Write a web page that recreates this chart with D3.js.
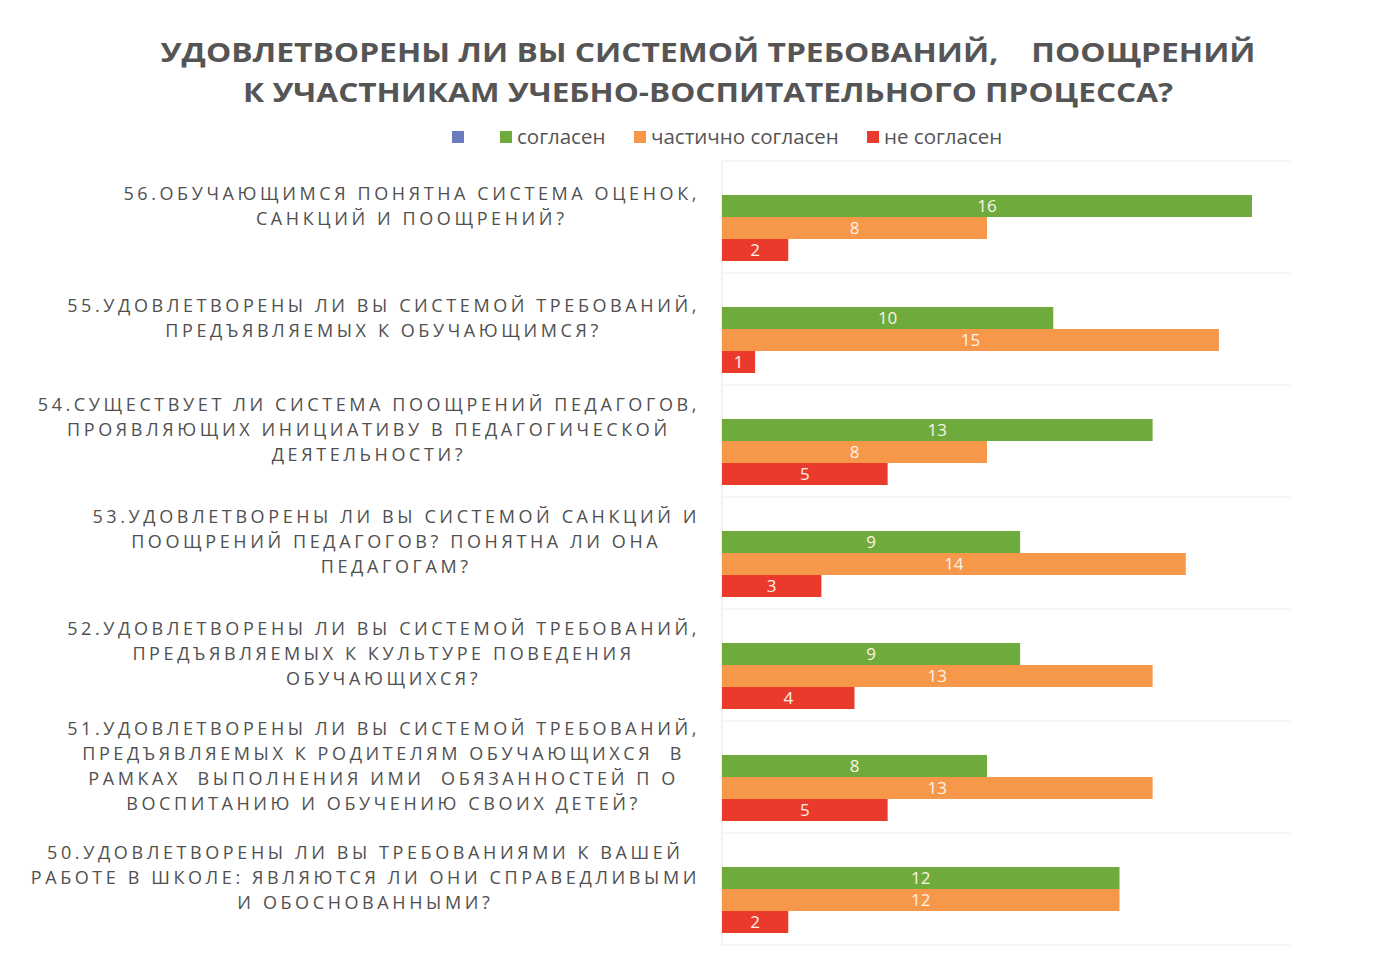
<!DOCTYPE html>
<html>
<head>
<meta charset="utf-8">
<script src="https://cdn.jsdelivr.net/npm/d3@7"></script>
<style>
  body { margin: 0; background: #fff; }
  svg { display: block; }
</style>
</head>
<body>
<script>
// data, top to bottom as in the chart
var questions = ["56", "55", "54", "53", "52", "51", "50"];
var labelLines = [
  ["56.ОБУЧАЮЩИМСЯ ПОНЯТНА СИСТЕМА ОЦЕНОК,", "САНКЦИЙ И ПООЩРЕНИЙ?"],
  ["55.УДОВЛЕТВОРЕНЫ ЛИ ВЫ СИСТЕМОЙ ТРЕБОВАНИЙ,", "ПРЕДЪЯВЛЯЕМЫХ К ОБУЧАЮЩИМСЯ?"],
  ["54.СУЩЕСТВУЕТ ЛИ СИСТЕМА ПООЩРЕНИЙ ПЕДАГОГОВ,", "ПРОЯВЛЯЮЩИХ ИНИЦИАТИВУ В ПЕДАГОГИЧЕСКОЙ", "ДЕЯТЕЛЬНОСТИ?"],
  ["53.УДОВЛЕТВОРЕНЫ ЛИ ВЫ СИСТЕМОЙ САНКЦИЙ И", "ПООЩРЕНИЙ ПЕДАГОГОВ? ПОНЯТНА ЛИ ОНА", "ПЕДАГОГАМ?"],
  ["52.УДОВЛЕТВОРЕНЫ ЛИ ВЫ СИСТЕМОЙ ТРЕБОВАНИЙ,", "ПРЕДЪЯВЛЯЕМЫХ К КУЛЬТУРЕ ПОВЕДЕНИЯ", "ОБУЧАЮЩИХСЯ?"],
  ["51.УДОВЛЕТВОРЕНЫ ЛИ ВЫ СИСТЕМОЙ ТРЕБОВАНИЙ,", "ПРЕДЪЯВЛЯЕМЫХ К РОДИТЕЛЯМ ОБУЧАЮЩИХСЯ  В", "РАМКАХ  ВЫПОЛНЕНИЯ ИМИ  ОБЯЗАННОСТЕЙ П О", "ВОСПИТАНИЮ И ОБУЧЕНИЮ СВОИХ ДЕТЕЙ?"],
  ["50.УДОВЛЕТВОРЕНЫ ЛИ ВЫ ТРЕБОВАНИЯМИ К ВАШЕЙ", "РАБОТЕ В ШКОЛЕ: ЯВЛЯЮТСЯ ЛИ ОНИ СПРАВЕДЛИВЫМИ", "И ОБОСНОВАННЫМИ?"]
];
var agree    = [16, 10, 13, 9, 9, 8, 12];
var partly   = [8, 15, 8, 14, 13, 13, 12];
var disagree = [2, 1, 5, 3, 4, 5, 2];

var seriesKeys   = ["blank", "agree", "partly", "disagree"];
var seriesNames  = ["", "согласен", "частично согласен", "не согласен"];
var seriesColors = ["#6b7bbf", "#6fab3c", "#f7974a", "#ea3a2c"];
var titleLines = ["УДОВЛЕТВОРЕНЫ ЛИ ВЫ СИСТЕМОЙ ТРЕБОВАНИЙ,    ПООЩРЕНИЙ", "К УЧАСТНИКАМ УЧЕБНО-ВОСПИТАТЕЛЬНОГО ПРОЦЕССА?"];

var W = 1399, H = 968;
var svg = d3.select("body").append("svg").attr("width", W).attr("height", H);
svg.append("rect").attr("width", W).attr("height", H).attr("fill", "#fff");

var rows = questions.map(function(q, i) {
  return {id: q, lines: labelLines[i], agree: agree[i], partly: partly[i], disagree: disagree[i]};
});

var x = d3.scaleLinear().domain([0, 16]).range([722, 1252]);
var y0 = d3.scaleBand().domain(questions).range([161, 945]);
var y1 = d3.scaleBand().domain(seriesKeys).range([12, y0.bandwidth() - 12]);

// faint separators between categories
svg.append("g").selectAll("line")
  .data(questions.concat(["end"]))
  .join("line")
  .attr("x1", 722).attr("x2", 1290)
  .attr("y1", function(d) { return d === "end" ? y0.range()[1] : y0(d); })
  .attr("y2", function(d) { return d === "end" ? y0.range()[1] : y0(d); })
  .attr("stroke", "#ececec").attr("stroke-width", 1);
svg.append("line")
  .attr("x1", 722).attr("x2", 722).attr("y1", y0.range()[0]).attr("y2", y0.range()[1])
  .attr("stroke", "#e4e4e4");

// title
svg.append("g").selectAll("text")
  .data(titleLines)
  .join("text")
  .attr("x", 708).attr("y", function(d, i) { return 62 + i * 40; })
  .attr("text-anchor", "middle")
  .attr("font-family", "'Open Sans', sans-serif")
  .attr("font-weight", "bold").attr("font-size", 27)
  .attr("textLength", function(d, i) { return i === 0 ? 1095 : 930; })
  .attr("lengthAdjust", "spacingAndGlyphs")
  .style("white-space", "pre")
  .attr("fill", "#555")
  .text(function(d) { return d; });

// legend
var legendX = [452, 500, 634, 867];
var lg = svg.append("g").selectAll("g")
  .data(seriesKeys)
  .join("g")
  .attr("transform", function(d, i) { return "translate(" + legendX[i] + ",131)"; });
lg.append("rect").attr("width", 12).attr("height", 12)
  .attr("fill", function(d, i) { return seriesColors[i]; });
lg.append("text").attr("x", 17).attr("y", 13)
  .attr("font-family", "'Open Sans', sans-serif").attr("font-size", 20.5)
  .attr("fill", "#555")
  .text(function(d, i) { return seriesNames[i]; });

// bars
var groups = svg.append("g").selectAll("g")
  .data(rows)
  .join("g")
  .attr("transform", function(d) { return "translate(0," + y0(d.id) + ")"; });

var cells = groups.selectAll("g")
  .data(function(d) {
    return ["agree", "partly", "disagree"].map(function(k) { return {key: k, value: d[k]}; });
  })
  .join("g");

cells.append("rect")
  .attr("x", x(0))
  .attr("y", function(d) { return y1(d.key); })
  .attr("width", function(d) { return x(d.value) - x(0); })
  .attr("height", y1.bandwidth())
  .attr("fill", function(d) { return seriesColors[seriesKeys.indexOf(d.key)]; });

cells.append("text")
  .attr("x", function(d) { return (x(0) + x(d.value)) / 2; })
  .attr("y", function(d) { return y1(d.key) + y1.bandwidth() / 2 + 6; })
  .attr("text-anchor", "middle")
  .attr("font-family", "'Open Sans', sans-serif").attr("font-size", 17)
  .attr("fill", "#fdf3e6")
  .text(function(d) { return d.value; });

// category labels: wrapped block, right edge at 700, lines centred in the block
var lineH = 25;
groups.each(function(d) {
  var g = d3.select(this);
  var n = d.lines.length;
  var midY = y0.bandwidth() / 2 - 11;
  var t = g.selectAll("text.lab")
    .data(d.lines)
    .join("text")
    .attr("class", "lab")
    .attr("font-family", "'Open Sans', sans-serif").attr("font-size", 18)
    .attr("letter-spacing", 3.6)
    .style("white-space", "pre")
    .attr("fill", "#505050")
    .attr("text-anchor", "middle")
    .attr("y", function(s, i) { return midY + (i - (n - 1) / 2) * lineH + 6; })
    .text(function(s) { return s; });
  var maxW = 0;
  t.each(function() { maxW = Math.max(maxW, this.getComputedTextLength()); });
  t.attr("x", 700 - maxW / 2);
});
</script>
</body>
</html>
